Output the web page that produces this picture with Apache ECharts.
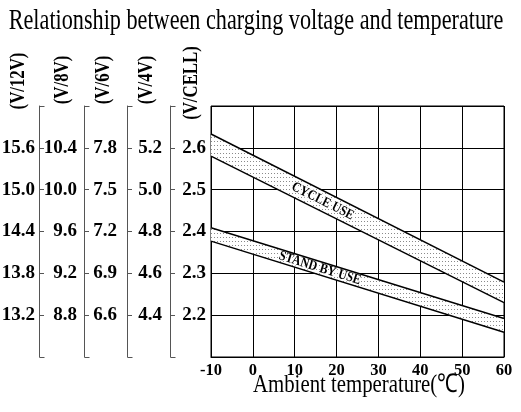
<!DOCTYPE html>
<html>
<head>
<meta charset="utf-8">
<title>Charging voltage vs temperature</title>
<script src="https://cdn.jsdelivr.net/npm/echarts@6/dist/echarts.min.js"></script>
<style>
  html, body { margin: 0; padding: 0; background: #fff; }
  #chart { width: 521px; height: 412px; }
</style>
</head>
<body>
<div id="chart"></div>
<script>
// ambient temperature (°C) at both ends of every line
const temps = [-10, 60]
// volts per cell
const cycleUpper = [2.633, 2.279]
const cycleLower = [2.580, 2.230]
const standbyUpper = [2.409, 2.192]
const standbyLower = [2.377, 2.159]

const tempMin = -10, tempMax = 60, tempStep = 10
// left scales, outermost first: cells per battery
const unitNames = ['(V/12V)', '(V/8V)', '(V/6V)', '(V/4V)', '(V/CELL)']
const cellCounts = [6, 4, 3, 2, 1]
const cellMin = 2.1, cellMax = 2.7, cellStep = 0.1

const bandNames = ['CYCLE USE', 'STAND BY USE']

// layout
const serif = '"Liberation Serif", "Times New Roman", serif'
const axisOffsets = [172, 127, 84, 41, 0]
const labelMargins = [4, 7, 10, 8, 5]
const nameX = [19, 63, 104, 147, 192]
const nameY = [81, 80, 80, 80, 83]
const tickLen = 5
const bracketColor = '#555'

const round = v => Math.round(v * 1000) / 1000

// dotted fill of the bands
const dotCanvas = document.createElement('canvas')
dotCanvas.width = 3
dotCanvas.height = 4
const ctx = dotCanvas.getContext('2d')
ctx.fillStyle = '#fff'
ctx.fillRect(0, 0, 3, 4)
ctx.fillStyle = '#8a8a8a'
ctx.fillRect(1, 1, 1, 1)
const dots = { image: dotCanvas, repeat: 'repeat' }

function band(upper, lower, text, labelX) {
  return {
    type: 'custom',
    yAxisIndex: 4,
    data: [[temps[0], upper[0]]],
    z: 2,
    silent: true,
    renderItem: (params, api) => {
      const top = temps.map((t, i) => api.coord([t, upper[i]]))
      const bottom = temps.map((t, i) => api.coord([t, lower[i]])).reverse()
      // the label sits on the middle line of the band
      const mid = i => (upper[i] + lower[i]) / 2
      const a = api.coord([temps[0], mid(0)])
      const b = api.coord([temps[1], mid(1)])
      const k = (labelX - temps[0]) / (temps[1] - temps[0])
      const c = api.coord([labelX, mid(0) + k * (mid(1) - mid(0))])
      const angle = Math.atan2(b[1] - a[1], b[0] - a[0])
      return {
        type: 'group',
        children: [
          { type: 'polygon', shape: { points: top.concat(bottom) }, style: { fill: dots } },
          {
            type: 'text', x: c[0], y: c[1], rotation: -angle, scaleX: 0.85,
            style: {
              text: text, font: 'bold 14px ' + serif, fill: '#000',
              stroke: '#fff', lineWidth: 2,
              align: 'center', verticalAlign: 'middle',
              textAlign: 'center', textVerticalAlign: 'middle'
            }
          }
        ]
      }
    }
  }
}

function edge(vals) {
  return {
    type: 'line',
    yAxisIndex: 4,
    data: temps.map((t, i) => [t, vals[i]]),
    symbol: 'none',
    silent: true,
    z: 3,
    lineStyle: { color: '#000', width: 1.5 }
  }
}

function label(text, x, y, font, scaleX, rotation) {
  return {
    type: 'text', x: x, y: y, rotation: rotation || 0, scaleX: scaleX,
    style: {
      text: text, font: font, fill: '#000',
      align: 'center', verticalAlign: 'middle',
      textAlign: 'center', textVerticalAlign: 'middle'
    }
  }
}

const chart = echarts.init(document.getElementById('chart'))
chart.setOption({
  backgroundColor: '#fff',
  animation: false,
  grid: {
    left: 211, right: 17, top: 106, bottom: 55,
    show: true, borderColor: '#000', borderWidth: 1,
    containLabel: false, outerBoundsMode: 'none'
  },
  xAxis: {
    type: 'value', min: tempMin, max: tempMax, interval: tempStep,
    axisLine: { show: true, onZero: false, lineStyle: { color: '#000' } },
    axisTick: { show: false },
    axisLabel: { margin: 5, color: '#000', fontFamily: serif, fontWeight: 'bold', fontSize: 16.5 },
    splitLine: { show: true, lineStyle: { color: '#000', width: 1 } }
  },
  yAxis: cellCounts.map((n, i) => ({
    type: 'value', position: 'left', offset: axisOffsets[i],
    min: round(cellMin * n), max: round(cellMax * n), interval: round(cellStep * n),
    axisLine: { show: n !== 1, onZero: false, lineStyle: { color: bracketColor } },
    axisTick: { show: n !== 1, inside: true, length: tickLen, lineStyle: { color: bracketColor } },
    axisLabel: {
      margin: labelMargins[i], showMinLabel: false, showMaxLabel: false,
      formatter: v => v.toFixed(1),
      color: '#000', fontFamily: serif, fontWeight: 'bold', fontSize: 19
    },
    splitLine: { show: n === 1, lineStyle: { color: '#000', width: 1 } }
  })),
  series: [
    band(cycleUpper, cycleLower, bandNames[0], 16.7),
    band(standbyUpper, standbyLower, bandNames[1], 16.0),
    edge(cycleUpper), edge(cycleLower),
    edge(standbyUpper), edge(standbyLower)
  ]
})

// texts, plus the end hooks that close each left scale into a bracket
const texts = [
  label('Relationship between charging voltage and temperature', 256, 21, '30px ' + serif, 0.74),
  label('Ambient temperature(℃)', 359, 385, '26px ' + serif, 0.8)
].concat(unitNames.map((t, i) =>
  label(t, nameX[i], nameY[i], 'bold 21px ' + serif, 0.8, Math.PI / 2)))

const gridLeft = chart.convertToPixel({ xAxisIndex: 0 }, tempMin)
const hooks = []
cellCounts.forEach((n, i) => {
  if (n === 1) return
  const x = gridLeft - axisOffsets[i] + 0.5
  ;[cellMin * n, cellMax * n].forEach(v => {
    const y = Math.round(chart.convertToPixel({ yAxisIndex: i }, round(v))) + 0.5
    hooks.push({
      type: 'line', silent: true,
      shape: { x1: x, y1: y, x2: x + tickLen, y2: y },
      style: { stroke: bracketColor, lineWidth: 1 }
    })
  })
})

chart.setOption({ graphic: texts.concat(hooks) })
</script>
</body>
</html>
